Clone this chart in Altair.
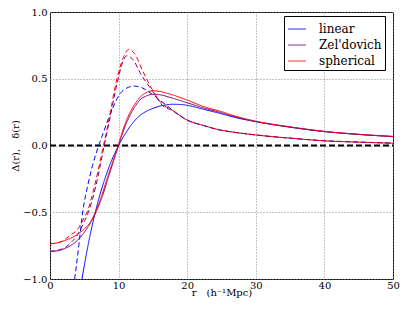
import altair as alt
import pandas as pd

# ---- data ----
models = ["linear", "Zel'dovich", "spherical"]
colors = ["#0000ff", "#800080", "#ff0000"]

# solid curves: Delta(r)
lin_solid_r = [4.66, 5.5, 6.6, 8.0, 9.0, 10.0, 11.0, 12.0, 13.0, 14.0, 15.0, 16.0, 17.0, 18.0, 19.5, 21.0, 22.5, 24.8, 27.0, 30.0, 35.0, 40.0, 45.0, 50.0]
lin_solid_v = [-1.0, -0.76, -0.5, -0.25, -0.11, 0.0, 0.09, 0.165, 0.22, 0.255, 0.278, 0.295, 0.305, 0.309, 0.305, 0.29, 0.27, 0.24, 0.21, 0.178, 0.137, 0.104, 0.083, 0.067]

zel_solid_r = [0, 1, 2, 3, 4, 5, 6, 6.6, 7.5, 8.5, 9.3, 10, 11, 11.7, 12.5, 13.3, 14, 15, 16, 17.5, 20, 22.5, 24.8, 27, 30, 35, 40, 45, 50]
zel_solid_v = [-0.793, -0.79, -0.775, -0.75, -0.71, -0.65, -0.57, -0.51, -0.4, -0.24, -0.11, 0.0, 0.15, 0.23, 0.30, 0.35, 0.37, 0.383, 0.38, 0.36, 0.32, 0.28, 0.248, 0.215, 0.18, 0.138, 0.105, 0.083, 0.067]

sph_solid_r = [0, 1, 2, 3, 4, 5, 6, 6.6, 7.5, 8.5, 9.3, 10, 10.25, 11, 11.7, 12.5, 13.2, 14, 15, 16, 17.5, 20, 22.5, 24.8, 27, 30, 35, 40, 45, 50]
sph_solid_v = [-0.736, -0.73, -0.715, -0.695, -0.665, -0.625, -0.565, -0.5, -0.38, -0.22, -0.1, 0.01, 0.054, 0.17, 0.25, 0.32, 0.365, 0.395, 0.41, 0.405, 0.385, 0.34, 0.29, 0.257, 0.22, 0.182, 0.14, 0.106, 0.084, 0.068]

# dashed curves: delta(r)
lin_dash_r = [3.6, 4.2, 4.76, 5.5, 6.2, 7.1, 7.8, 9.0, 10.25, 11.0, 12.3, 13.5, 15.0, 16.0, 17.0, 17.5, 20, 22.5, 24.8, 27, 30, 35, 40, 45, 50]
lin_dash_v = [-1.0, -0.75, -0.5, -0.3, -0.15, 0.0, 0.10, 0.264, 0.39, 0.425, 0.445, 0.43, 0.38, 0.34, 0.30, 0.28, 0.19, 0.148, 0.116, 0.098, 0.079, 0.055, 0.036, 0.026, 0.018]

zel_dash_r = [0, 2, 3, 4, 5, 5.6, 6.7, 7.9, 8.6, 9.8, 10.5, 11.2, 12.0, 13.3, 14.9, 16.6, 17.5, 20, 22.5, 24.8, 27, 30, 35, 40, 45, 50]
zel_dash_v = [-0.793, -0.77, -0.73, -0.67, -0.57, -0.5, -0.3, 0.0, 0.17, 0.47, 0.61, 0.672, 0.65, 0.53, 0.41, 0.29, 0.27, 0.19, 0.148, 0.116, 0.098, 0.079, 0.055, 0.035, 0.025, 0.017]

sph_dash_r = [0, 1, 2, 3, 4, 5, 5.4, 6.5, 7.8, 8.5, 9.76, 10.7, 11.5, 12.3, 13.5, 14.9, 16.6, 17.5, 20, 22.5, 24.8, 27, 30, 35, 40, 45, 50]
sph_dash_v = [-0.736, -0.73, -0.71, -0.67, -0.63, -0.54, -0.5, -0.3, 0.0, 0.17, 0.5, 0.66, 0.72, 0.69, 0.56, 0.42, 0.30, 0.275, 0.19, 0.148, 0.116, 0.098, 0.079, 0.055, 0.035, 0.025, 0.017]

zero_r = [0, 50]
zero_v = [0.0, 0.0]

# ---- build table ----
rows = []
def add(rs, vs, model, kind, order):
    for a, b in zip(rs, vs):
        rows.append({"r": a, "v": b, "model": model, "kind": kind, "o": order})

add(lin_dash_r, lin_dash_v, "linear", "dashed", 0)
add(zel_dash_r, zel_dash_v, "Zel'dovich", "dashed", 1)
add(sph_dash_r, sph_dash_v, "spherical", "dashed", 2)
add(lin_solid_r, lin_solid_v, "linear", "solid", 3)
add(zel_solid_r, zel_solid_v, "Zel'dovich", "solid", 4)
add(sph_solid_r, sph_solid_v, "spherical", "solid", 5)
df = pd.DataFrame(rows)
zdf = pd.DataFrame({"r": zero_r, "v": zero_v})

FONT = "DejaVu Serif"

xenc = alt.X("r:Q", scale=alt.Scale(domain=[0, 50], nice=False),
             axis=alt.Axis(title="r\u2002\u2002(h⁻¹Mpc)", values=[0, 10, 20, 30, 40, 50],
                           labelFlush=False, labelOverlap=False, labelPadding=1,
                           titlePadding=-3))
yenc = alt.Y("v:Q", scale=alt.Scale(domain=[-1, 1], nice=False),
             axis=alt.Axis(title="Δ(r),\u2003δ(r)", values=[-1, -0.5, 0, 0.5, 1],
                           format=".1f", labelOverlap=False, labelPadding=3,
                           titlePadding=2))

zero = alt.Chart(zdf).mark_line(color="black", strokeWidth=1.8, strokeDash=[6, 3], clip=True).encode(
    x=xenc, y=yenc)

curves = alt.Chart(df).mark_line(strokeWidth=1, clip=True, interpolate="monotone").encode(
    x=xenc, y=yenc,
    color=alt.Color("model:N",
                    scale=alt.Scale(domain=models, range=colors),
                    sort=models,
                    legend=alt.Legend(title=None, orient="none", legendX=234, legendY=4,
                                      symbolType="stroke", symbolSize=324,
                                      symbolStrokeWidth=1.5, symbolOpacity=0.55,
                                      labelFont=FONT, labelFontSize=12,
                                      labelOffset=12, rowPadding=0,
                                      padding=3, strokeColor="black",
                                      fillColor="white")),
    strokeDash=alt.StrokeDash("kind:N", scale=alt.Scale(domain=["solid", "dashed"],
                                                        range=[[1, 0], [5, 3]]),
                              legend=None),
    detail="o:N",
    order="o:Q",
)

chart = alt.layer(zero, curves).properties(
    width=343, height=267,
    autosize=alt.AutoSizeParams(type="none"),
    padding={"left": 42, "top": 4, "right": 14, "bottom": 22},
).configure_view(stroke="black", strokeWidth=1).configure_axis(
    labelFont=FONT, titleFont=FONT, labelFontSize=10, titleFontSize=10,
    titleFontWeight="normal", labelColor="black", titleColor="black",
    ticks=False, tickSize=0, domain=False,
    grid=True, gridColor="#888888", gridDash=[1, 2], gridWidth=1,
)

chart.save("out.html", embed_options={"renderer": "svg", "actions": False})
